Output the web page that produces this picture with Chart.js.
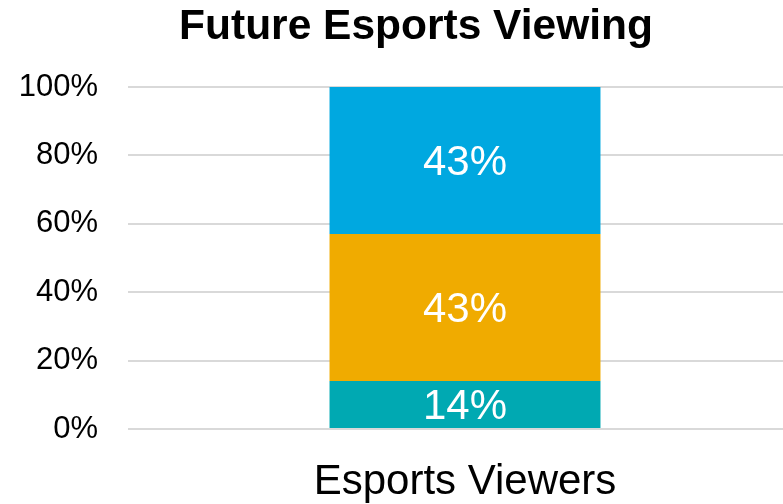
<!DOCTYPE html>
<html lang="en">
<head>
    <meta charset="UTF-8">
    <title>Future Esports Viewing</title>
    <script src="https://cdn.jsdelivr.net/npm/chart.js"></script>
    <style>
        html, body { margin: 0; padding: 0; background: #fff; }
        /* the plot runs a little past the right edge, so clip the canvas */
        #wrap { width: 783px; height: 504px; overflow: hidden; }
    </style>
</head>
<body>
    <div id="wrap">
        <canvas id="viewChart" width="802" height="504"></canvas>
    </div>

    <script>
        const categories = ['Esports Viewers'];
        const seriesNames = ['Low', 'Medium', 'High'];
        const seriesValues = [[14], [43], [43]];
        const seriesColors = ['#00A9B2', '#F0AB00', '#00A8E0'];
        const yTicks = [0, 20, 40, 60, 80, 100];

        const FONT = '"Liberation Sans", Arial, sans-serif';

        // title drawn by hand so it can sit where the layout wants it
        const titlePlugin = {
            id: 'titleText',
            afterDraw(chart) {
                const ctx = chart.ctx;
                ctx.save();
                ctx.font = 'bold 42.5px ' + FONT;
                ctx.fillStyle = '#000';
                ctx.textAlign = 'center';
                ctx.textBaseline = 'middle';
                ctx.fillText('Future Esports Viewing', 416, 27);
                ctx.restore();
            }
        };

        // percentage labels in the middle of each segment
        const segmentLabels = {
            id: 'segmentLabels',
            afterDatasetsDraw(chart) {
                const ctx = chart.ctx;
                ctx.save();
                ctx.font = '42px ' + FONT;
                ctx.fillStyle = '#fff';
                ctx.textAlign = 'center';
                ctx.textBaseline = 'middle';
                chart.data.datasets.forEach((ds, i) => {
                    chart.getDatasetMeta(i).data.forEach((bar, j) => {
                        const mid = (bar.y + bar.base) / 2;
                        ctx.fillText(ds.data[j] + '%', bar.x, mid + 3);
                    });
                });
                ctx.restore();
            }
        };

        new Chart(document.getElementById('viewChart'), {
            type: 'bar',
            data: {
                labels: categories,
                datasets: seriesNames.map((name, i) => ({
                    label: name,
                    data: seriesValues[i],
                    backgroundColor: seriesColors[i],
                    borderWidth: 0,
                    barPercentage: 0.402,
                    categoryPercentage: 1
                }))
            },
            options: {
                responsive: false,
                animation: false,
                layout: { padding: { top: 87, right: 0, left: 0, bottom: 0 } },
                plugins: {
                    legend: { display: false },
                    title: { display: false },
                    tooltip: { enabled: false }
                },
                scales: {
                    x: {
                        stacked: true,
                        grid: { display: false },
                        border: { display: false },
                        ticks: {
                            color: '#000',
                            font: { family: FONT, size: 42 },
                            padding: 20
                        },
                        afterFit(scale) { scale.height = 75; }
                    },
                    y: {
                        stacked: true,
                        min: 0,
                        max: 100,
                        afterBuildTicks(scale) {
                            scale.ticks = yTicks.map(v => ({ value: v }));
                        },
                        grid: {
                            color: '#D9D9D9',
                            lineWidth: 2,
                            drawTicks: false
                        },
                        border: { display: false },
                        ticks: {
                            color: '#000',
                            font: { family: FONT, size: 31 },
                            padding: 30,
                            callback: v => v + '%'
                        },
                        afterFit(scale) { scale.width = 128; }
                    }
                }
            },
            plugins: [titlePlugin, segmentLabels]
        });
    </script>
</body>
</html>
